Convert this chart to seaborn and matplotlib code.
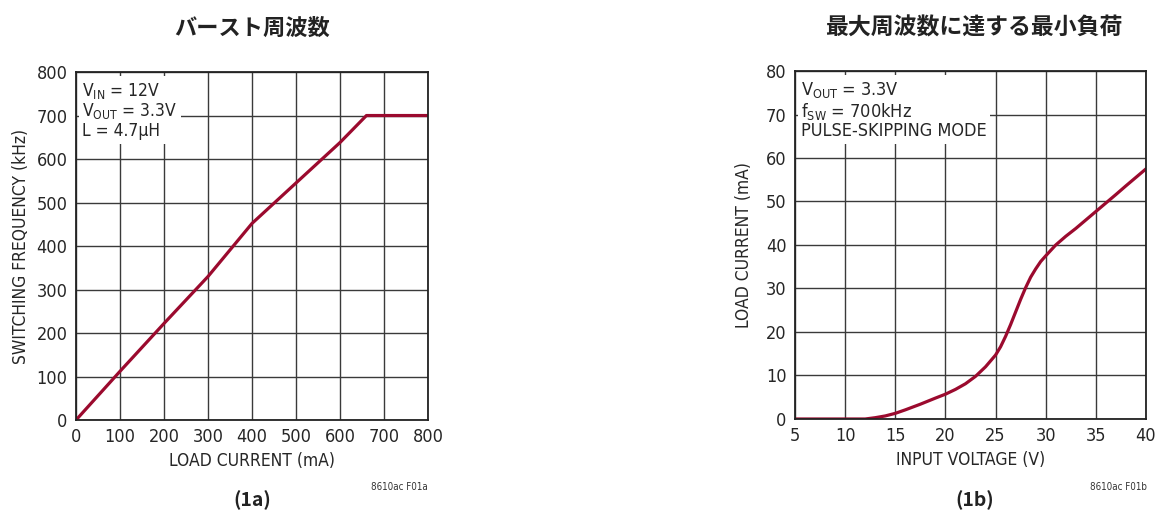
import numpy as np
import pandas as pd
import matplotlib.pyplot as plt
import seaborn as sns

# burst frequency vs load current (1a)
load_ma = [0, 100, 200, 300, 400, 500, 600, 660, 800]
freq_khz = [0, 112, 222, 330, 452, 545, 638, 700, 700]

# min load to reach max frequency (1b)
vin = [5, 8, 10, 12, 13, 14, 15, 16, 17.5, 19, 20, 21, 22, 23, 24, 25, 25.5, 26, 26.5, 27, 27.5, 28, 28.5, 29, 29.5, 30, 31, 32, 33, 35, 37, 38, 40]
iload = [0, 0, 0, 0, 0.3, 0.7, 1.3, 2.1, 3.4, 4.8, 5.7, 6.8, 8.1, 9.8, 12.0, 14.7, 16.6, 19.0, 21.7, 24.6, 27.5, 30.2, 32.6, 34.5, 36.2, 37.5, 40.0, 42.0, 43.8, 47.7, 51.6, 53.6, 57.5]

df_a = pd.DataFrame({"load": load_ma, "freq": freq_khz})
df_b = pd.DataFrame({"vin": vin, "iload": iload})

sns.set_style("white")
plt.rcParams['font.family'] = ['DejaVu Sans', 'Noto Sans CJK JP']
plt.rcParams['font.stretch'] = 'condensed'
plt.rcParams['mathtext.fontset'] = 'custom'
plt.rcParams['mathtext.rm'] = 'DejaVu Sans:stretch=condensed'
plt.rcParams['mathtext.it'] = 'DejaVu Sans:stretch=condensed'
plt.rcParams['mathtext.default'] = 'regular'

red = "#9b0a2e"
gridc = "#3a3a3a"

fig = plt.figure(figsize=(11.55, 5.16), dpi=100)
ax1 = fig.add_axes([0.0658, 0.186, 0.3048, 0.6744])
ax2 = fig.add_axes([0.6883, 0.188, 0.3039, 0.6744])

sns.lineplot(data=df_a, x="load", y="freq", ax=ax1, color=red, lw=2.3, zorder=3)
sns.lineplot(data=df_b, x="vin", y="iload", ax=ax2, color=red, lw=2.3, zorder=3)

ax1.set_xlim(0, 800)
ax1.set_ylim(0, 800)
ax1.set_xticks(range(0, 801, 100))
ax1.set_yticks(range(0, 801, 100))
ax2.set_xlim(5, 40)
ax2.set_ylim(0, 80)
ax2.set_xticks(range(5, 41, 5))
ax2.set_yticks(range(0, 81, 10))

for ax in (ax1, ax2):
    ax.grid(True, color=gridc, lw=1.0, zorder=1)
    ax.set_axisbelow(True)
    ax.tick_params(axis="x", labelsize=13, length=0, pad=6)
    ax.tick_params(axis="y", labelsize=13, length=0, pad=6)
    for s in ax.spines.values():
        s.set_color("#222222")
        s.set_linewidth(1.3)
        s.set_zorder(4)

ax1.set_xlabel("LOAD CURRENT (mA)", fontsize=12.5, labelpad=4)
ax1.set_ylabel("SWITCHING FREQUENCY (kHz)", fontsize=12.5, labelpad=5)
ax2.set_xlabel("INPUT VOLTAGE (V)", fontsize=12.5, labelpad=4)
ax2.set_ylabel("LOAD CURRENT (mA)", fontsize=12.5, labelpad=9)

box = dict(facecolor="white", edgecolor="none", pad=2.5)
ax1.text(0.018, 0.975, "V$_{IN}$ = 12V\nV$_{OUT}$ = 3.3V\nL = 4.7µH", transform=ax1.transAxes,
         ha="left", va="top", fontsize=12.5, linespacing=1.05, bbox=box, zorder=5)
ax2.text(0.018, 0.975, "V$_{OUT}$ = 3.3V\nf$_{SW}$ = 700kHz\nPULSE-SKIPPING MODE", transform=ax2.transAxes,
         ha="left", va="top", fontsize=13, linespacing=1.05, bbox=box, zorder=5)

jp = ['Noto Sans CJK JP', 'DejaVu Sans']
fig.text(0.218, 0.946, "バースト周波数", ha="center", va="center", fontsize=16, fontweight="bold", family=jp, color="#222222")
fig.text(0.843, 0.946, "最大周波数に達する最小負荷", ha="center", va="center", fontsize=16.5, fontweight="bold", family=jp, color="#222222")

fig.text(0.218, 0.03, "(1a)", ha="center", va="center", fontsize=14, fontweight="bold", family=jp, color="#222222")
fig.text(0.844, 0.03, "(1b)", ha="center", va="center", fontsize=14, fontweight="bold", family=jp, color="#222222")

fig.text(0.346, 0.056, "8610ac F01a", ha="center", va="center", fontsize=7, color="#333333")
fig.text(0.968, 0.056, "8610ac F01b", ha="center", va="center", fontsize=7, color="#333333")

plt.savefig("out.png", dpi=100)
